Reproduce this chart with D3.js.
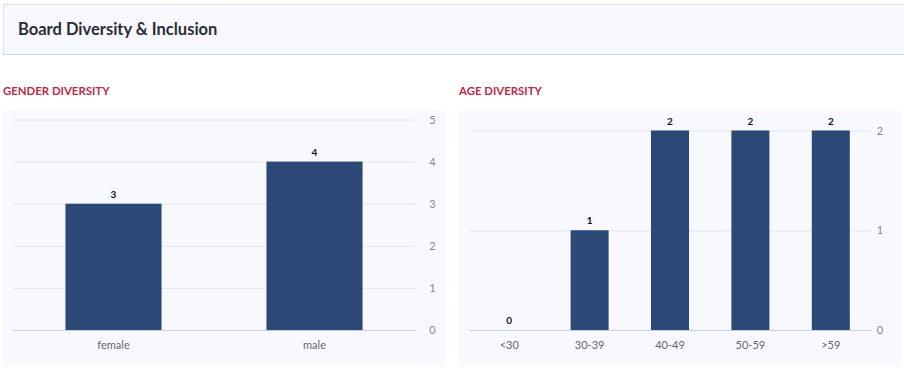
<!DOCTYPE html>
<html><head><meta charset="utf-8">
<script src="https://cdn.jsdelivr.net/npm/d3@7"></script>
<style>
body{margin:0;background:#fff;}
svg text{font-family:"Lato","Noto Sans",sans-serif;}
</style></head>
<body>
<svg id="c" width="904" height="369"></svg>
<script>
const title = "Board Diversity & Inclusion";
const genderTitle = "GENDER DIVERSITY";
const genderCats = ["female","male"];
const genderVals = [3,4];
const genderTicks = [0,1,2,3,4,5];
const ageTitle = "AGE DIVERSITY";
const ageCats = ["<30","30-39","40-49","50-59",">59"];
const ageVals = [0,1,2,2,2];
const ageTicks = [0,1,2];

const svg = d3.select("#c");
// header
svg.append("rect").attr("x",3.5).attr("y",4.5).attr("width",910).attr("height",50)
  .attr("fill","#f8f9fe").attr("stroke","#dde2ee");
svg.append("line").attr("x1",3).attr("x2",904).attr("y1",54.5).attr("y2",54.5)
  .attr("stroke","#c9cfdd").attr("stroke-dasharray","2,2");
svg.append("text").attr("x",18).attr("y",35).text(title)
  .attr("font-size",16.5).attr("font-weight",700).attr("fill","#2a2d33");

function panel(o){
  const g = svg.append("g");
  g.append("text").attr("x",o.tx).attr("y",95).text(o.title)
    .attr("font-size",11.4).attr("font-weight",700).attr("fill","#c3273f");
  g.append("rect").attr("x",o.bx0).attr("y",110).attr("width",o.bx1-o.bx0).attr("height",256)
    .attr("fill","#f8f9fe");
  const x = d3.scaleBand().domain(o.cats).range([o.x0,o.x1]).padding(0);
  const y = d3.scaleLinear().domain([0,d3.max(o.ticks)]).range([330,o.ytop]);
  // gridlines
  g.selectAll(".gl").data(o.ticks).join("line")
    .attr("x1",o.x0).attr("x2",o.x1)
    .attr("y1",d=>y(d)+0.5).attr("y2",d=>y(d)+0.5)
    .attr("stroke",d=>d===0?"#c7d0e6":"#e0e4ef").attr("stroke-width",1);
  // y axis on right
  const ya = d3.axisRight(y).tickValues(o.ticks).tickSize(0).tickPadding(0).tickFormat(d3.format("d"));
  const yg = g.append("g").attr("transform",`translate(${o.ylx},0)`).call(ya);
  yg.select(".domain").remove();
  yg.selectAll("text").attr("font-size",11).attr("fill","#888").attr("text-anchor","middle");
  // x axis
  const xa = d3.axisBottom(x).tickSize(0).tickPadding(0);
  const xg = g.append("g").attr("transform","translate(0,341)").call(xa);
  xg.select(".domain").remove();
  xg.selectAll("text").attr("font-size",11).attr("fill","#666").attr("dy","0.71em");
  const bw = x.bandwidth()*o.bf;
  g.selectAll(".bar").data(o.vals).join("rect")
    .attr("x",(d,i)=>x(o.cats[i])+x.bandwidth()/2-bw/2)
    .attr("width",bw)
    .attr("y",d=>y(d)).attr("height",d=>330-y(d))
    .attr("fill","#2b4877");
  g.selectAll(".vl").data(o.vals).join("text")
    .attr("x",(d,i)=>x(o.cats[i])+x.bandwidth()/2)
    .attr("y",d=>y(d)-6)
    .attr("text-anchor","middle").attr("font-size",10).attr("font-weight",700).attr("fill","#111")
    .text(d=>d);
}
panel({title:genderTitle,cats:genderCats,vals:genderVals,ticks:genderTicks,tx:3,bx0:3,bx1:445,x0:13,x1:415,ytop:119.5,ylx:432.5,bf:0.478});
panel({title:ageTitle,cats:ageCats,vals:ageVals,ticks:ageTicks,tx:459,bx0:459,bx1:901,x0:469,x1:871,ytop:130.5,ylx:880,bf:0.473});
</script>
</body></html>
